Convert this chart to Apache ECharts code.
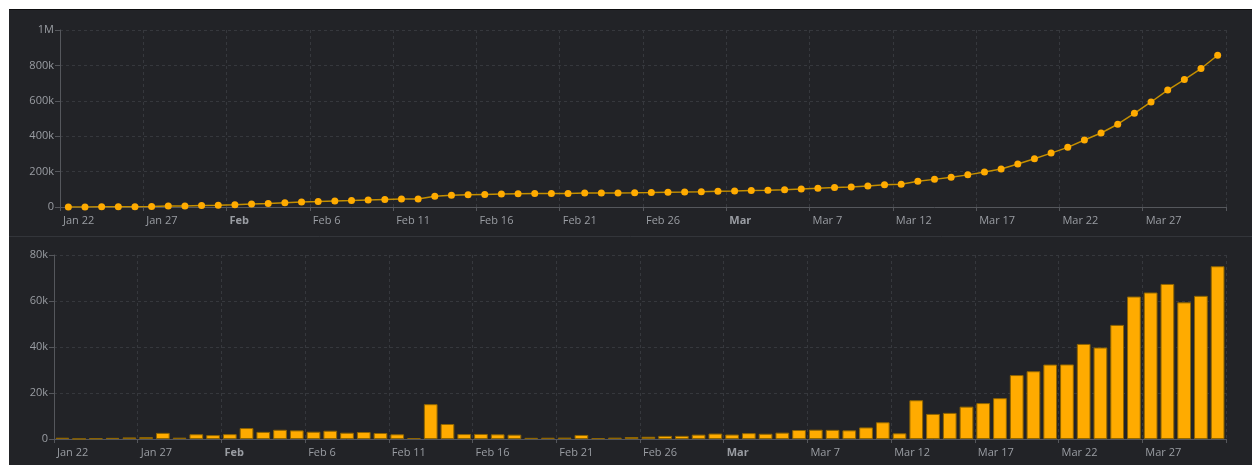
<!DOCTYPE html>
<html>
<head>
<meta charset="utf-8">
<script src="https://cdn.jsdelivr.net/npm/echarts@6/dist/echarts.min.js"></script>
<style>
  html, body { margin: 0; padding: 0; background: #ffffff; }
  #bg {
    position: absolute; left: 9px; top: 9px; width: 1243px; height: 455px;
    background: #222327; border-top: 1px solid #0e0e10;
  }
  #chart { position: absolute; left: 0; top: 0; width: 1252px; height: 465px; }
</style>
</head>
<body>
<div id="bg"></div>
<div id="chart"></div>
<script>
// days, Jan 22 .. Mar 31
const days = [
  'Jan 22', 'Jan 23', 'Jan 24', 'Jan 25', 'Jan 26', 'Jan 27', 'Jan 28', 'Jan 29', 'Jan 30', 'Jan 31',
  'Feb 1', 'Feb 2', 'Feb 3', 'Feb 4', 'Feb 5', 'Feb 6', 'Feb 7', 'Feb 8', 'Feb 9', 'Feb 10',
  'Feb 11', 'Feb 12', 'Feb 13', 'Feb 14', 'Feb 15', 'Feb 16', 'Feb 17', 'Feb 18', 'Feb 19', 'Feb 20',
  'Feb 21', 'Feb 22', 'Feb 23', 'Feb 24', 'Feb 25', 'Feb 26', 'Feb 27', 'Feb 28', 'Feb 29',
  'Mar 1', 'Mar 2', 'Mar 3', 'Mar 4', 'Mar 5', 'Mar 6', 'Mar 7', 'Mar 8', 'Mar 9', 'Mar 10',
  'Mar 11', 'Mar 12', 'Mar 13', 'Mar 14', 'Mar 15', 'Mar 16', 'Mar 17', 'Mar 18', 'Mar 19', 'Mar 20',
  'Mar 21', 'Mar 22', 'Mar 23', 'Mar 24', 'Mar 25', 'Mar 26', 'Mar 27', 'Mar 28', 'Mar 29', 'Mar 30', 'Mar 31'
]

// cumulative cases (top)
const totalCases = [
  555, 654, 941, 1434, 2118, 2927, 5578, 6166, 8234, 9927,
  12038, 16787, 19881, 23892, 27635, 30794, 34391, 37120, 40150, 42762,
  44802, 45221, 60368, 66885, 69030, 71224, 73258, 75136, 75639, 76197,
  76819, 78572, 78958, 79561, 80406, 81388, 82746, 84112, 86011,
  88369, 90306, 92840, 95120, 97882, 101784, 105821, 109795, 113561, 118592,
  125865, 128343, 145193, 156097, 167449, 181531, 197146, 214910, 242708, 272166,
  304524, 336953, 378287, 418045, 467653, 529591, 593291, 660706, 720117, 782365, 857487
]

// new cases per day (bottom)
const newCases = [
  555, 99, 287, 493, 684, 809, 2651, 588, 2068, 1693,
  2111, 4749, 3094, 4011, 3743, 3159, 3597, 2729, 3030, 2612,
  2040, 419, 15147, 6517, 2145, 2194, 2034, 1878, 503, 558,
  622, 1753, 386, 603, 845, 982, 1358, 1366, 1899,
  2358, 1937, 2534, 2280, 2762, 3902, 4037, 3974, 3766, 5031,
  7273, 2478, 16850, 10904, 11352, 14082, 15615, 17764, 27798, 29458,
  32358, 32429, 41334, 39758, 49608, 61938, 63700, 67415, 59411, 62248, 75122
]

// x tick labels, one every 5 days (month starts are bold)
const tickLabels = ['Jan 22', 'Jan 27', 'Feb', 'Feb 6', 'Feb 11', 'Feb 16', 'Feb 21',
  'Feb 26', 'Mar', 'Mar 7', 'Mar 12', 'Mar 17', 'Mar 22', 'Mar 27']

const fontFamily = 'Open Sans'
const labelColor = '#9a9da3'
const axisColor = '#55575c'
const gridColor = '#36383d'

function yFmt (v) {
  if (v === 0) return '0'
  if (v >= 1000000) return (v / 1000000) + 'M'
  return (v / 1000) + 'k'
}

function xFmt (v) {
  const t = tickLabels[Math.round(v / 5)]
  if (!t) return ''
  return t.indexOf(' ') < 0 ? '{b|' + t + '}' : t
}

function labelAxis (gridIndex) {
  return {
    type: 'value',
    gridIndex: gridIndex,
    position: 'bottom',
    min: 0,
    max: 70,
    interval: 5,
    axisLine: { show: true, lineStyle: { color: axisColor } },
    axisTick: { show: true, length: 4, lineStyle: { color: axisColor } },
    axisLabel: {
      formatter: xFmt,
      align: 'left',
      padding: [0, 0, 0, 3],
      margin: 8,
      color: labelColor,
      fontSize: 11,
      fontFamily: fontFamily,
      rich: { b: { fontWeight: 'bold', color: labelColor, fontSize: 11, fontFamily: fontFamily } }
    },
    splitLine: { show: true, lineStyle: { color: gridColor, type: [3, 3] } }
  }
}

function dataAxis (gridIndex) {
  return {
    type: 'category',
    gridIndex: gridIndex,
    position: 'bottom',
    data: days,
    boundaryGap: true,
    show: false
  }
}

function valueAxis (gridIndex, max, interval) {
  return {
    type: 'value',
    gridIndex: gridIndex,
    min: 0,
    max: max,
    interval: interval,
    axisLine: { show: true, lineStyle: { color: axisColor } },
    axisTick: { show: true, length: 5, lineStyle: { color: axisColor } },
    axisLabel: {
      formatter: yFmt,
      margin: 6,
      color: labelColor,
      fontSize: 11,
      fontFamily: fontFamily
    },
    splitLine: { show: true, lineStyle: { color: gridColor, type: [3, 3] } }
  }
}

const chart = echarts.init(document.getElementById('chart'), null, { renderer: 'canvas' })
chart.setOption({
  animation: false,
  backgroundColor: 'transparent',
  graphic: [
    {
      type: 'line',
      shape: { x1: 9, y1: 236.5, x2: 1252, y2: 236.5 },
      style: { stroke: '#33353a', lineWidth: 1 }
    }
  ],
  grid: [
    { left: 60, right: 26, top: 30, height: 177 },
    { left: 54, right: 26, top: 255, height: 184 }
  ],
  xAxis: [dataAxis(0), labelAxis(0), dataAxis(1), labelAxis(1)],
  yAxis: [valueAxis(0, 1000000, 200000), valueAxis(1, 80000, 20000)],
  series: [
    {
      name: 'Total cases',
      type: 'line',
      xAxisIndex: 0,
      yAxisIndex: 0,
      data: totalCases,
      symbol: 'circle',
      symbolSize: 7,
      showSymbol: true,
      showAllSymbol: true,
      lineStyle: { color: '#c48f00', width: 1.5 },
      itemStyle: { color: '#ffab00' }
    },
    {
      name: 'New cases',
      type: 'bar',
      xAxisIndex: 2,
      yAxisIndex: 1,
      data: newCases,
      barCategoryGap: '18%',
      itemStyle: { color: '#ffab00', borderColor: '#8f6500', borderWidth: 1 }
    }
  ]
})
</script>
</body>
</html>
